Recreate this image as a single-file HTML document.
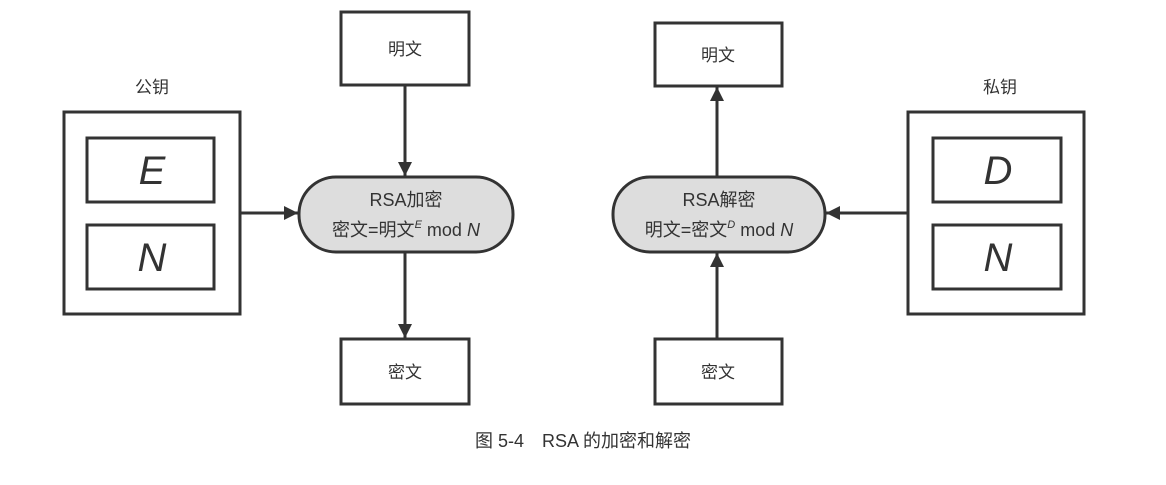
<!DOCTYPE html>
<html><head><meta charset="utf-8"><style>
body{margin:0;background:#fff;width:1166px;height:480px;overflow:hidden}
text{font-family:"Liberation Sans","Noto Sans CJK SC",sans-serif;fill:#333}
</style></head><body>
<svg width="1166" height="480" viewBox="0 0 1166 480" xmlns="http://www.w3.org/2000/svg">
<defs><marker id="a" markerWidth="10" markerHeight="10" refX="9" refY="5" orient="auto" markerUnits="userSpaceOnUse"><path d="M0,0 L10,5 L0,10 z" fill="#333"/></marker>
<marker id="b" viewBox="0 0 10 10" markerWidth="18" markerHeight="14" refX="10" refY="5" orient="auto" markerUnits="userSpaceOnUse"><path d="M0,0 L10,5 L0,10 z" fill="#333"/></marker></defs>
<g stroke="#333" stroke-width="3" fill="none">
<rect x="64" y="112" width="176" height="202"/>
<rect x="87" y="138" width="127" height="64"/>
<rect x="87" y="225" width="127" height="64"/>
<rect x="341" y="12" width="128" height="73"/>
<rect x="341" y="339" width="128" height="65"/>
<rect x="299" y="177" width="214" height="75" rx="37" fill="#ddd"/>
<rect x="655" y="23" width="127" height="63"/>
<rect x="655" y="339" width="127" height="65"/>
<rect x="613" y="177" width="212" height="75" rx="37" fill="#ddd"/>
<rect x="908" y="112" width="176" height="202"/>
<rect x="933" y="138" width="128" height="64"/>
<rect x="933" y="225" width="128" height="64"/>
<line x1="405" y1="85" x2="405" y2="176" marker-end="url(#b)"/>
<line x1="405" y1="252" x2="405" y2="338" marker-end="url(#b)"/>
<line x1="240" y1="213" x2="298" y2="213" marker-end="url(#b)"/>
<line x1="717" y1="177" x2="717" y2="87" marker-end="url(#b)"/>
<line x1="717" y1="339" x2="717" y2="253" marker-end="url(#b)"/>
<line x1="908" y1="213" x2="826" y2="213" marker-end="url(#b)"/>
</g>
<g font-size="17" text-anchor="middle">
<text x="152" y="93">公钥</text>
<text x="1000" y="93">私钥</text>
<text x="405" y="55">明文</text>
<text x="405" y="378">密文</text>
<text x="718" y="61">明文</text>
<text x="718" y="378">密文</text>
</g>
<g font-size="40" font-style="italic" text-anchor="middle">
<text x="152" y="184">E</text>
<text x="152" y="271">N</text>
<text x="998" y="184">D</text>
<text x="998" y="271">N</text>
</g>
<g font-size="18" text-anchor="middle">
<text x="406" y="206">RSA加密</text>
<text x="406" y="236">密文=明文<tspan font-size="11" font-style="italic" dy="-8">E</tspan><tspan dy="8"> mod </tspan><tspan font-style="italic">N</tspan></text>
<text x="719" y="206">RSA解密</text>
<text x="719" y="236">明文=密文<tspan font-size="11" font-style="italic" dy="-8">D</tspan><tspan dy="8"> mod </tspan><tspan font-style="italic">N</tspan></text>
</g>
<text x="583" y="447" font-size="18" text-anchor="middle">图 5-4　RSA 的加密和解密</text>
</svg>
</body></html>
